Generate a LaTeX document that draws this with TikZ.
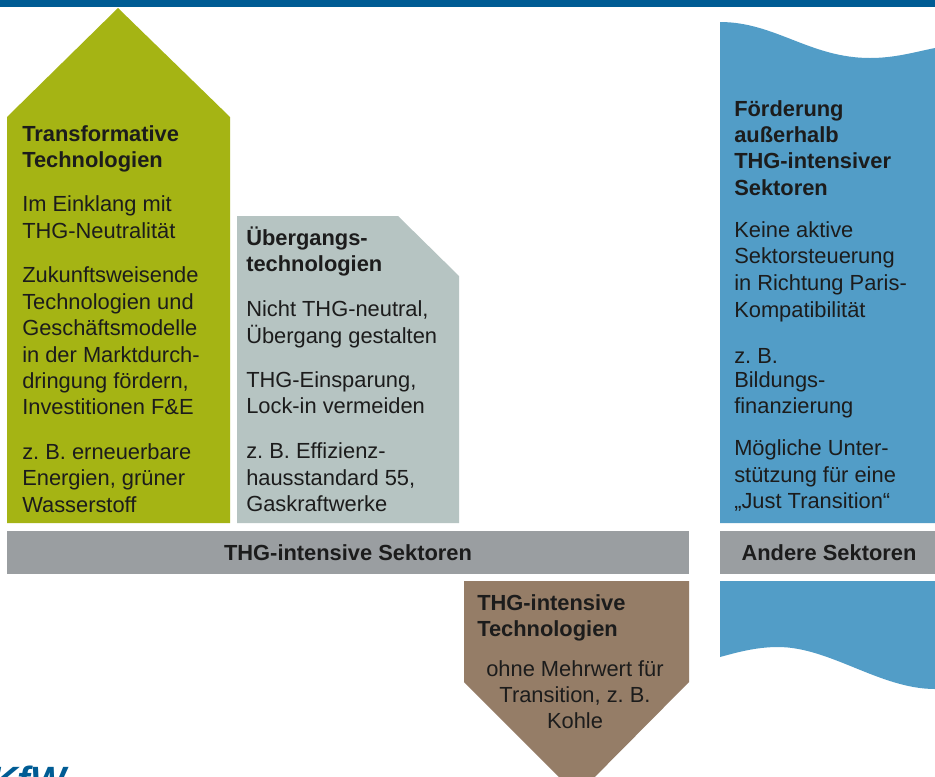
\documentclass[tikz,border=0pt]{standalone}
\usepackage{fontspec}
\setmainfont{Liberation Sans}
\frenchspacing
\definecolor{barblue}{HTML}{005C94}
\definecolor{ngreen}{HTML}{A5B414}
\definecolor{ngrey}{HTML}{B6C4C2}
\definecolor{nband}{HTML}{9A9EA1}
\definecolor{nbrown}{HTML}{957D67}
\definecolor{nblue}{HTML}{529DC7}
\definecolor{ink}{HTML}{1C1C1C}
\tikzset{
  x=0.75pt,y=-0.75pt,
  shapefill/.style={fill=#1,draw=none},
  para/.style={anchor=base west,inner sep=0pt,align=left,text=ink,font=\fontsize{16.4pt}{19.9pt}\selectfont},
  parac/.style={anchor=base,inner sep=0pt,align=center,text=ink,font=\fontsize{16.4pt}{19.9pt}\selectfont},
  head/.style={para,font=\fontsize{16.4pt}{19.9pt}\selectfont\bfseries},
  bandtext/.style={anchor=base,inner sep=0pt,text=ink,font=\fontsize{16.4pt}{19.9pt}\selectfont\bfseries},
}
\begin{document}
\begin{tikzpicture}
\useasboundingbox (0,0) rectangle (935,776);
\clip (0,0) rectangle (935,776);
\fill[white] (0,0) rectangle (935,776);
\fill[barblue] (0,0) rectangle (935,7);
\path[shapefill=ngreen] (7,117) -- (118,8) -- (230,117) -- (230,523) -- (7,523) -- cycle;
\path[shapefill=ngrey] (237,216) -- (398,216) -- (459,276) -- (459,523) -- (237,523) -- cycle;
\path[shapefill=nband] (7,531) rectangle (689,574);
\path[shapefill=nband] (720,531) rectangle (935,574);
\path[shapefill=nbrown] (464,581) -- (689,581) -- (689,682) -- (577,795) -- (464,682) -- cycle;
\path[shapefill=nblue] (720,22) .. controls (775,22) and (810,58) .. (870,58) .. controls (895,58) and (915,52) .. (935,48) -- (935,523) -- (720,523) -- cycle;
\path[shapefill=nblue] (720,581) -- (935,581) -- (935,689) .. controls (880,689) and (830,647) .. (778,647) .. controls (755,647) and (735,653) .. (720,657) -- cycle;
% logo, cut off by the lower edge
\node[anchor=base west,inner sep=0pt,text=barblue,font=\fontsize{28.5pt}{30pt}\selectfont\bfseries\itshape] (logo) at (-10,793) {KfW};
% green
\node[head] (g1) at (22,141) {Transformative};
\node[head] (g2) at (22,167) {Technologien};
\node[para] (g3) at (22,211) {Im Einklang mit};
\node[para] (g4) at (22,238) {THG-Neutralität};
\node[para] (g5) at (22,282) {Zukunftsweisende};
\node[para] (g6) at (22,309) {Technologien und};
\node[para] (g7) at (22,335) {Geschäftsmodelle};
\node[para] (g8) at (22,362) {in der Marktdurch-};
\node[para] (g9) at (22,388) {dringung fördern,};
\node[para] (g10) at (22,414) {Investitionen F\&E};
\node[para] (g11) at (22,459) {z. B. erneuerbare};
\node[para] (g12) at (22,485) {Energien, grüner};
\node[para] (g13) at (22,512) {Wasserstoff};
% grey
\node[head] (u1) at (246,245) {Übergangs-};
\node[head] (u2) at (246,271.5) {technologien};
\node[para] (u3) at (246,316) {Nicht THG-neutral,};
\node[para] (u4) at (246,343) {Übergang gestalten};
\node[para] (u5) at (246,387) {THG-Einsparung,};
\node[para] (u6) at (246,413) {Lock-in vermeiden};
\node[para] (u7) at (246,458) {z. B. Effizienz-};
\node[para] (u8) at (246,485) {hausstandard 55,};
\node[para] (u9) at (246,511) {Gaskraftwerke};
% blue
\node[head] (b1) at (734,116) {Förderung};
\node[head] (b2) at (734,142) {außerhalb};
\node[head] (b3) at (734,168) {THG-intensiver};
\node[head] (b4) at (734,195) {Sektoren};
\node[para] (b5) at (734,237) {Keine aktive};
\node[para] (b6) at (734,263) {Sektorsteuerung};
\node[para] (b7) at (734,290) {in Richtung Paris-};
\node[para] (b8) at (734,317) {Kompatibilität};
\node[para] (b9) at (734,363) {z. B.};
\node[para] (b10) at (734,387) {Bildungs-};
\node[para] (b11) at (734,413) {finanzierung};
\node[para] (b12) at (734,455) {Mögliche Unter-};
\node[para] (b13) at (734,482) {stützung für eine};
\node[para] (b14) at (734,508) {„Just Transition“};
% bands
\node[bandtext] (s1) at (348,560) {THG-intensive Sektoren};
\node[bandtext] (s2) at (829,560) {Andere Sektoren};
% brown
\node[head] (t1) at (477,610) {THG-intensive};
\node[head] (t2) at (477,636) {Technologien};
\node[parac] (t3) at (575,676) {ohne Mehrwert für};
\node[parac] (t4) at (575,702) {Transition, z. B.};
\node[parac] (t5) at (575,728) {Kohle};
\end{tikzpicture}
\end{document}
